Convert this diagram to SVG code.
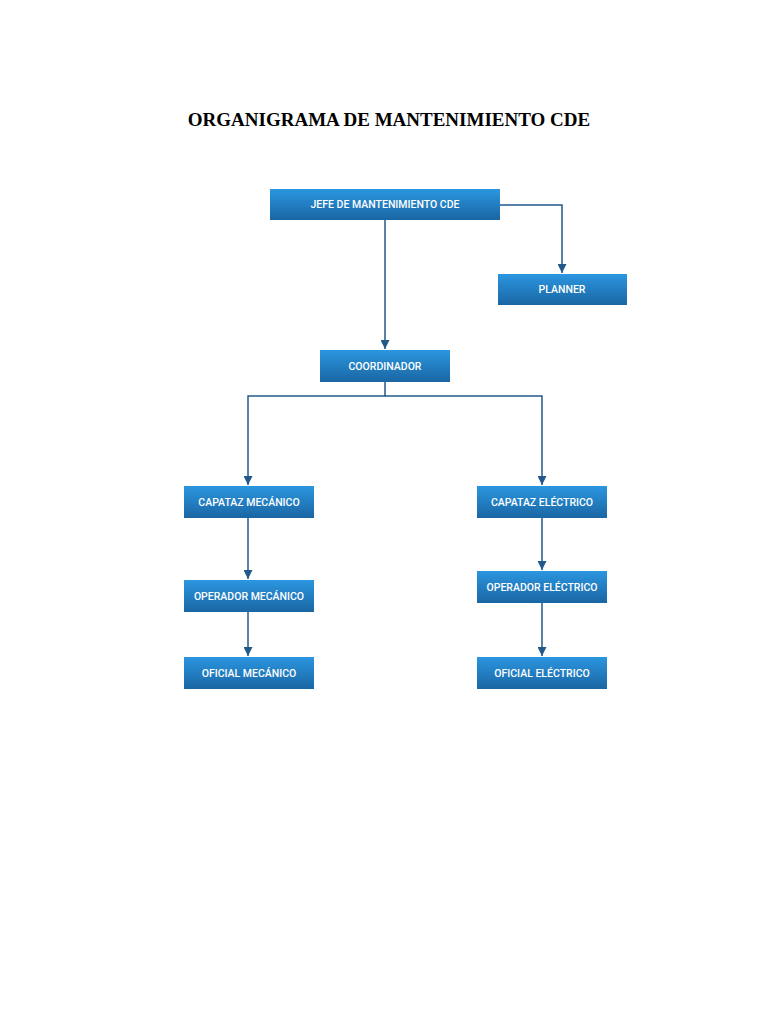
<svg xmlns="http://www.w3.org/2000/svg" width="768" height="1024" viewBox="0 0 768 1024">
<defs>
<linearGradient id="g" x1="0" y1="0" x2="0" y2="1"><stop offset="0" stop-color="#2b96e0"/><stop offset="1" stop-color="#1a66a3"/></linearGradient>
<marker id="a" viewBox="0 0 10 10" refX="10" refY="5" markerWidth="9" markerHeight="9" markerUnits="userSpaceOnUse" orient="auto"><path d="M0,0L10,5L0,10z" fill="#22598a"/></marker>
<style>
.b{fill:url(#g)}
.t{font-family:Roboto,"Liberation Sans",sans-serif;font-size:10.5px;fill:#fff;text-anchor:middle;font-weight:500}
.c{fill:none;stroke:#22598a;stroke-width:1.5;marker-end:url(#a)}
</style>
</defs>
<rect width="768" height="1024" fill="#fff"/>
<text x="389" y="126" font-family="'Liberation Serif',serif" font-size="19" font-weight="bold" text-anchor="middle">ORGANIGRAMA DE MANTENIMIENTO CDE</text>
<g id="connectors">
<path class="c" d="M500,205H562V273"/>
<path class="c" d="M385,220V349" stroke="#5a8fbf"/>
<path class="c" d="M385,382V396H248V485"/>
<path class="c" d="M385,396H542V485"/>
<path class="c" d="M248,518V579"/>
<path class="c" d="M248,612V656"/>
<path class="c" d="M542,518V570"/>
<path class="c" d="M542,603V656"/>
</g>
<g id="jefe"><rect class="b" x="270" y="189" width="230" height="31"/><text class="t" x="385" y="208">JEFE DE MANTENIMIENTO CDE</text></g>
<g id="planner"><rect class="b" x="498" y="274" width="129" height="31"/><text class="t" x="562" y="293">PLANNER</text></g>
<g id="coordinador"><rect class="b" x="320" y="350" width="130" height="32"/><text class="t" x="385" y="370">COORDINADOR</text></g>
<g id="capataz-mec"><rect class="b" x="184" y="486" width="130" height="32"/><text class="t" x="249" y="506">CAPATAZ MECÁNICO</text></g>
<g id="operador-mec"><rect class="b" x="184" y="580" width="130" height="32"/><text class="t" x="249" y="600">OPERADOR MECÁNICO</text></g>
<g id="oficial-mec"><rect class="b" x="184" y="657" width="130" height="32"/><text class="t" x="249" y="677">OFICIAL MECÁNICO</text></g>
<g id="capataz-elec"><rect class="b" x="477" y="486" width="130" height="32"/><text class="t" x="542" y="506">CAPATAZ ELÉCTRICO</text></g>
<g id="operador-elec"><rect class="b" x="477" y="571" width="130" height="32"/><text class="t" x="542" y="591">OPERADOR ELÉCTRICO</text></g>
<g id="oficial-elec"><rect class="b" x="477" y="657" width="130" height="32"/><text class="t" x="542" y="677">OFICIAL ELÉCTRICO</text></g>
</svg>
